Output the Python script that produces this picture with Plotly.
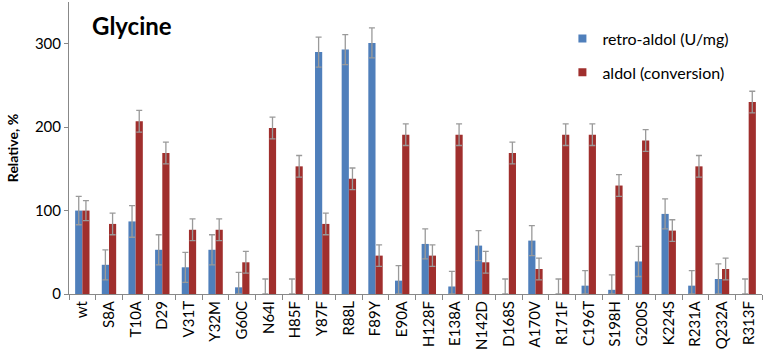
import plotly.graph_objects as go

categories = ["wt", "S8A", "T10A", "D29", "V31T", "Y32M", "G60C", "N64I", "H85F", "Y87F",
              "R88L", "F89Y", "E90A", "H128F", "E138A", "N142D", "D168S", "A170V", "R171F",
              "C196T", "S198H", "G200S", "K224S", "R231A", "Q232A", "R313F"]

retro_aldol = [100, 35, 87, 53, 32, 53, 8, 0, 0, 290, 293, 301, 16, 60, 9, 58, 0, 64, 0,
               10, 5, 39, 96, 10, 18, 0]
retro_err = [17, 18, 19, 18, 18, 18, 18, 18, 18, 18, 18, 18, 18, 18, 18, 18, 18, 18, 18,
             18, 18, 18, 18, 18, 18, 18]

aldol = [100, 84, 207, 169, 77, 77, 38, 199, 153, 84, 138, 46, 191, 46, 191, 38, 169, 30, 191,
         191, 130, 184, 76, 153, 30, 230]
aldol_err = [12, 13, 13, 13, 13, 13, 13, 13, 13, 13, 13, 13, 13, 13, 13, 13, 13, 13, 13,
             13, 13, 13, 13, 13, 13, 13]

y_ticks = [0, 100, 200, 300]

FONT = "Lato"
BLUE = "#4F7FBB"
RED = "#A02F2D"
ERR = "#9A9A9A"

fig = go.Figure()
fig.add_trace(go.Bar(
    x=categories, y=retro_aldol, name="retro-aldol (U/mg)", marker_color=BLUE,
    marker_line_width=0, showlegend=False,
    error_y=dict(type="data", array=retro_err,
                 arrayminus=[min(e, v) for e, v in zip(retro_err, retro_aldol)],
                 color=ERR, thickness=1.3, width=3),
))
fig.add_trace(go.Bar(
    x=categories, y=aldol, name="aldol (conversion)", marker_color=RED,
    marker_line_width=0, showlegend=False,
    error_y=dict(type="data", array=aldol_err, color=ERR, thickness=1.3, width=3),
))
# legend entries (small square swatches)
for name, col, grp in [("retro-aldol (U/mg)", BLUE, "a"), ("aldol (conversion)", RED, "b")]:
    fig.add_trace(go.Scatter(
        x=[categories[0]], y=[None], mode="markers", name=name, legendgroup=grp,
        marker=dict(symbol="square", size=8, color=col), hoverinfo="skip",
    ))

fig.update_layout(
    width=765, height=360,
    margin=dict(l=69, r=3, t=2, b=66, autoexpand=False),
    barmode="group", bargap=0.46, bargroupgap=0,
    plot_bgcolor="white", paper_bgcolor="white",
    font=dict(family=FONT, size=14, color="black"),
    showlegend=True,
    legend=dict(x=0.712, y=0.933, xanchor="left", yanchor="top",
                bgcolor="rgba(0,0,0,0)", font=dict(size=16), itemwidth=30,
                traceorder="grouped", tracegroupgap=10),
    annotations=[dict(text="<b>Glycine</b>", x=0.03, y=0.921, xref="paper",
                      yref="paper", xanchor="left", yanchor="middle",
                      showarrow=False, font=dict(size=24))],
)

fig.update_xaxes(
    range=[-0.5, len(categories) - 0.5],
    showline=True, linecolor="#888888", linewidth=1, automargin=False,
    ticks="outside", tickson="boundaries", ticklen=5, tickcolor="#888888",
    tickangle=-90, tickfont=dict(size=15), showgrid=False,
)
fig.update_yaxes(
    range=[0, 350], tickvals=y_ticks, showline=True, linecolor="#888888", linewidth=1,
    ticks="outside", ticklen=4, tickcolor="#888888", showgrid=False, zeroline=False,
    tickfont=dict(size=15), automargin=False,
    title=dict(text="<b>Relative, %</b>", font=dict(size=14), standoff=12),
)

fig.write_html("out.html", config={"displayModeBar": False},
               post_script="document.body.style.margin='0';")
